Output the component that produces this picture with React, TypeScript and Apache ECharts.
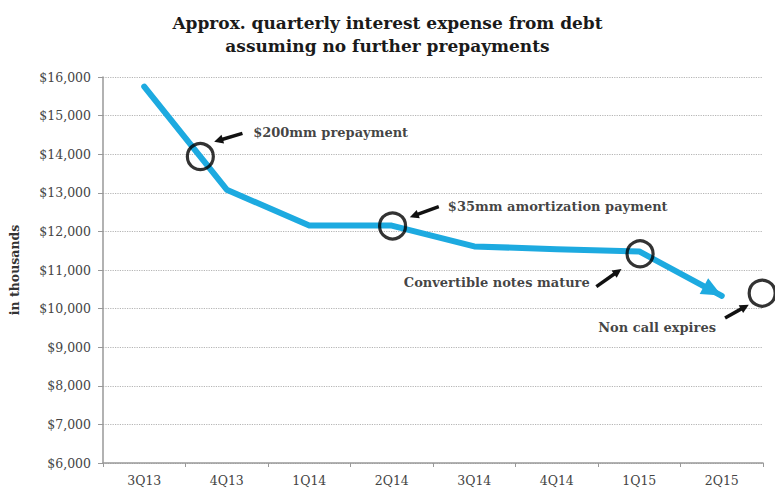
import React, { useEffect, useRef } from "react";
import * as echarts from "echarts";

const categories = ["3Q13", "4Q13", "1Q14", "2Q14", "3Q14", "4Q14", "1Q15", "2Q15"];
const expense = [15750, 13080, 12150, 12150, 11610, 11540, 11480, 10330];

// annotation circles: [category index position, value]
const circles: [number, number][] = [
  [0.68, 13940],
  [3.01, 12140],
  [6.01, 11420],
  [7.49, 10400],
];

// annotation texts
const notes = [
  { text: "$200mm prepayment", pos: [1.32, 14560], side: "right" },
  { text: "$35mm amortization payment", pos: [3.68, 12640], side: "right" },
  { text: "Convertible notes mature", pos: [5.4, 10670], side: "left" },
  { text: "Non call expires", pos: [6.93, 9500], side: "left" },
];

// annotation arrows: [from, to]
const arrows: [[number, number], [number, number]][] = [
  [[1.19, 14540], [0.9, 14356]],
  [[3.57, 12640], [3.27, 12408]],
  [[5.48, 10571], [5.74, 10961]],
  [[7.04, 9758], [7.28, 10044]],
];

const SERIF = "'DejaVu Serif', serif";

export default function App() {
  const ref = useRef<HTMLDivElement>(null);
  useEffect(() => {
    if (!ref.current) return;
    const chart = echarts.init(ref.current, null, { renderer: "svg" });
    const lastIdx = expense.length - 1;
    chart.setOption({
      animation: false,
      backgroundColor: "#ffffff",
      title: {
        text: "Approx. quarterly interest expense from debt\nassuming no further prepayments",
        left: "center",
        top: 6,
        textStyle: {
          fontFamily: SERIF,
          fontWeight: "bold",
          fontSize: 17,
          lineHeight: 23,
          color: "#1a1a1a",
        },
      },
      grid: { left: 100, right: 12, top: 77, bottom: 29, containLabel: false },
      xAxis: [
        {
          type: "category",
          data: categories,
          boundaryGap: true,
          axisLine: { lineStyle: { color: "#999", width: 1.5 } },
          axisTick: { show: true, length: 4, lineStyle: { color: "#999" } },
          axisLabel: { color: "#444", fontFamily: SERIF, fontSize: 12.5, margin: 11 },
        },
        { type: "value", min: -0.5, max: 7.5, show: false },
      ],
      yAxis: {
        type: "value",
        min: 6000,
        max: 16000,
        interval: 1000,
        name: "in thousands",
        nameLocation: "middle",
        nameGap: 82,
        nameRotate: 90,
        nameTextStyle: { fontFamily: SERIF, fontWeight: "bold", fontSize: 12.5, color: "#333" },
        axisLine: { show: true, onZero: false, lineStyle: { color: "#999", width: 1.5 } },
        axisTick: { show: true, length: 5, lineStyle: { color: "#999" } },
        axisLabel: {
          color: "#444",
          fontFamily: SERIF,
          fontSize: 12.5,
          margin: 12,
          formatter: (v: number) => "$" + v.toLocaleString("en-US"),
        },
        splitLine: { show: true, lineStyle: { color: "#b5b5b5", type: "dotted", width: 1.2 } },
      },
      series: [
        {
          type: "line",
          xAxisIndex: 0,
          data: expense.map((v, i) =>
            i === lastIdx
              ? { value: v, symbol: "triangle", symbolSize: [18, 20], symbolRotate: -118, symbolOffset: [-9, -5] }
              : { value: v, symbol: "none" }
          ),
          showSymbol: true,
          itemStyle: { color: "#1DAAE0" },
          lineStyle: { color: "#1DAAE0", width: 6, cap: "round", join: "round" },
          silent: true,
          z: 2,
        },
        {
          type: "scatter",
          xAxisIndex: 1,
          data: circles,
          symbol: "circle",
          symbolSize: 26,
          clip: false,
          itemStyle: { color: "rgba(0,0,0,0)", borderColor: "#000", borderWidth: 3.2 },
          silent: true,
          z: 3,
          markLine: {
            silent: true,
            symbol: ["none", "triangle"],
            symbolSize: [9, 9],
            label: { show: false },
            lineStyle: { color: "#111", width: 3.5, type: "solid" },
            data: arrows.map(([a, b]) => [{ coord: a }, { coord: b }]),
          },
        },
        ...notes.map((n) => ({
          type: "scatter",
          xAxisIndex: 1,
          data: [n.pos],
          symbolSize: 0,
          clip: false,
          silent: true,
          label: {
            show: true,
            position: n.side,
            distance: 0,
            formatter: n.text,
            fontFamily: SERIF,
            fontWeight: "bold",
            fontSize: 13,
            color: "#111",
          },
        })),
      ],
    });
    return () => chart.dispose();
  }, []);
  return (
    <div
      ref={ref}
      style={{ position: "fixed", left: 0, top: 0, width: 775, height: 492 }}
    />
  );
}
